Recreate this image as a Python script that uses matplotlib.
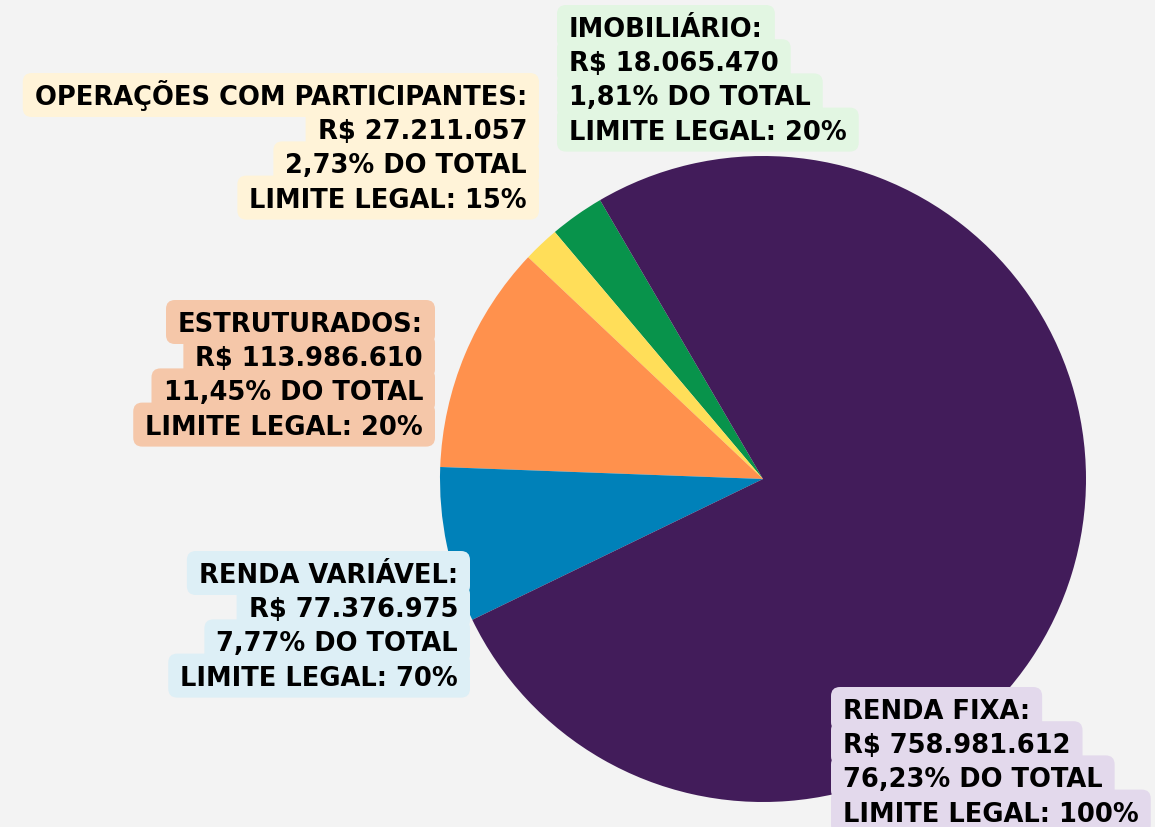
import matplotlib
matplotlib.use("Agg")
from matplotlib import pyplot as plt
from matplotlib.patches import FancyBboxPatch

# dados
categorias = ["Renda Fixa", "Renda Variável", "Estruturados", "Imobiliário",
              "Operações com Participantes"]
valores = [758981612, 77376975, 113986610, 18065470, 27211057]
percentuais = [76.23, 7.77, 11.45, 1.81, 2.73]
limites = [100, 70, 20, 20, 15]

# ordem das fatias no sentido anti-horario, a partir do topo esquerdo
ordem_pizza = ["Operações com Participantes", "Imobiliário", "Estruturados",
               "Renda Variável", "Renda Fixa"]
cores_fatia = {"Operações com Participantes": "#08934B", "Imobiliário": "#FFDE59",
               "Estruturados": "#FF914D", "Renda Variável": "#0081B9",
               "Renda Fixa": "#421C5A"}
cores_caixa = {"Operações com Participantes": "#FFF3D8", "Imobiliário": "#E2F6E2",
               "Estruturados": "#F5C7A9", "Renda Variável": "#DDEFF6",
               "Renda Fixa": "#E3D9EC"}
# (x, linha de base da 1a linha, alinhamento)
pos_rotulo = {"Operações com Participantes": (527, 105, "right"),
              "Imobiliário": (569, 37, "left"),
              "Estruturados": (423, 332, "right"),
              "Renda Variável": (458, 583, "right"),
              "Renda Fixa": (843, 719, "left")}

BG = "#F3F3F3"
W, H = 1155, 828
CENTRO = (763, 480)
RAIO = 323
PASSO = 34.2
PAD = 12


def fmt_real(v):
    return "R$ " + "{:,}".format(v).replace(",", ".")


def fmt_pct(p):
    return "{:.2f}".format(p).replace(".", ",") + "% DO TOTAL"


fig = plt.figure(figsize=(W / 100, H / 100), dpi=100, facecolor=BG)
ax = fig.add_axes([0, 0, 1, 1])
ax.set_facecolor(BG)

vals = [percentuais[categorias.index(c)] for c in ordem_pizza]
# eixo y invertido: sentido visual anti-horario = horario nos dados
ax.pie(vals, colors=[cores_fatia[c] for c in ordem_pizza], startangle=-120.3,
       counterclock=False, center=CENTRO, radius=RAIO,
       wedgeprops=dict(linewidth=0, antialiased=True))
ax.set_xlim(0, W)
ax.set_ylim(H, 0)
ax.set_aspect("auto")
ax.set_axis_off()

fonte = dict(family=["DejaVu Sans"], weight="bold", size=18.5, color="black")

textos = []
for i, cat in enumerate(categorias):
    linhas = [cat.upper() + ":", fmt_real(valores[i]), fmt_pct(percentuais[i]),
              "LIMITE LEGAL: {}%".format(limites[i])]
    x, y0, ha = pos_rotulo[cat]
    for j, s in enumerate(linhas):
        y = y0 + j * PASSO
        t = ax.text(x, y, s, ha=ha, va="baseline", zorder=4, **fonte)
        textos.append((t, cat, x, y, ha))

fig.canvas.draw()
renderer = fig.canvas.get_renderer()
for t, cat, x, y, ha in textos:
    larg = t.get_window_extent(renderer).width
    if ha == "right":
        x0 = x - larg - PAD
    else:
        x0 = x - PAD
    caixa = FancyBboxPatch((x0, y - 31), larg + 2 * PAD, 44,
                           boxstyle="round,pad=0,rounding_size=9",
                           facecolor=cores_caixa[cat], edgecolor="none", zorder=3)
    ax.add_patch(caixa)

fig.savefig("out.png", dpi=100, facecolor=BG)
